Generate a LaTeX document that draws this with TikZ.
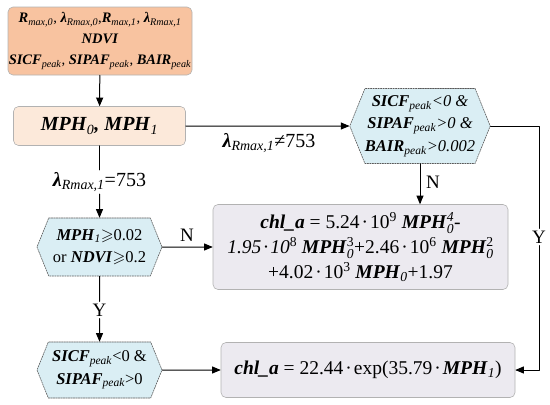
\documentclass[tikz,border=0pt]{standalone}
\usepackage{amsmath,amssymb}
\usepackage{fontspec}
\setmainfont{Liberation Serif}
\usepackage{tikz}
\usetikzlibrary{arrows}
\usetikzlibrary{shapes.symbols}
\definecolor{inorange}{HTML}{F8C3A0}
\definecolor{mphorange}{HTML}{FCE9DA}
\definecolor{hexblue}{HTML}{DAEEF4}
\definecolor{eqgray}{HTML}{ECEAF0}
\newcommand{\bi}[1]{\textbf{\textit{#1}}}
\newcommand{\lo}[1]{\textsubscript{\textit{#1}}}
\newcommand{\supsub}[2]{$^{\text{#1}}_{\textit{#2}}$}
\newcommand{\md}{\kern2pt·\kern2pt}
\begin{document}
\begin{tikzpicture}[line cap=round,line join=round,>=triangle 45,x=1pt,y=-1pt,line width=1pt,
    inbox/.style={draw=gray!60,line width=0.6pt,fill=inorange,rounded corners=5pt,align=center,inner sep=0pt,font=\fontsize{14.5}{21}\selectfont},
    mphbox/.style={draw=gray!60,line width=0.6pt,fill=mphorange,rounded corners=5pt,align=center,inner sep=0pt,font=\fontsize{20}{22}\selectfont},
    hexbox/.style={shape=signal,signal to=west and east,signal pointer angle=136,draw=gray!70!black,line width=0.6pt,dash pattern=on 1.5pt off 1pt,fill=hexblue,align=center,inner sep=0pt,font=\fontsize{16.5}{22.5}\selectfont},
    eqbox/.style={draw=gray!60,line width=0.6pt,fill=eqgray,rounded corners=5pt,align=center,inner sep=0pt,font=\fontsize{19.5}{25}\selectfont},
    lbl/.style={inner sep=2pt,font=\fontsize{20}{22}\selectfont},
    yn/.style={inner sep=2pt,font=\fontsize{19}{21}\selectfont}]
                \useasboundingbox (0,0) rectangle (550,405);
                \node[inbox,minimum width=184,minimum height=68] (inp) at (100,41) {\bi{R}\lo{max,0}, \bi{λ}\lo{Rmax,0},\bi{R}\lo{max,1}, \bi{λ}\lo{Rmax,1}\\ \bi{NDVI}\\ \bi{SICF}\lo{peak}, \bi{SIPAF}\lo{peak}, \bi{BAIR}\lo{peak}};
                \node[mphbox,minimum width=172,minimum height=39] (mph) at (99.5,126) {\bi{MPH}\lo{0}\bi{, MPH}\lo{1}};
                \node[hexbox,minimum width=140,minimum height=75] (cnd1) at (420,126) {\bi{SICF}\lo{peak}\textit{<0 \&}\\ \bi{SIPAF}\lo{peak}\textit{>0 \&}\\ \bi{BAIR}\lo{peak}\textit{>0.002}};
                \node[hexbox,minimum width=125,minimum height=58] (cnd2) at (99.5,247) {\bi{MPH}\lo{1}$\geqslant$0.02\\ or \bi{NDVI}$\geqslant$0.2};
                \node[hexbox,minimum width=125,minimum height=56] (cnd3) at (99.5,370) {\bi{SICF}\lo{peak}<0 \&\\ \bi{SIPAF}\lo{peak}>0};
                \node[eqbox,minimum width=295,minimum height=85] (eq1) at (360.5,247) {\bi{chl\_a} = 5.24\md 10\textsuperscript{9} \bi{MPH}\supsub{\textit{4}}{0}-\\ \textit{1.95\md 10}\textsuperscript{8} \bi{MPH}\supsub{3}{0}+2.46\md 10\textsuperscript{6} \bi{MPH}\supsub{2}{0}\\ +4.02\md 10\textsuperscript{3} \bi{MPH}\lo{0}+1.97};
                \node[eqbox,minimum width=294,minimum height=55] (eq2) at (368,370) {\bi{chl\_a} = 22.44\md exp(35.79\md\bi{MPH}\lo{1})};
                \node[lbl] (ne753) at (269,143) {\bi{λ}\lo{Rmax,1}≠753};
                \node[lbl] (eq753) at (99.5,182) {\bi{λ}\lo{Rmax,1}=753};
                \node[yn] (no1) at (433,182) {N};
                \node[yn] (no2) at (187,235) {N};
                \node[yn] (yes1) at (99.5,310) {Y};
                \node[yn] (yes2) at (539,237) {Y};
                \coordinate (rtop) at (539,126);
                \coordinate (rbot) at (539,370);
                \draw [->] (inp) -- (mph);
                \draw [->] (mph) -- (cnd1);
                \draw (mph) -- (eq753);
                \draw [->] (eq753) -- (cnd2);
                \draw [->] (cnd1.south) -- (cnd1.south |- eq1.north);
                \draw [->] (cnd2) -- (eq1);
                \draw (cnd2) -- (yes1);
                \draw [->] (yes1) -- (cnd3);
                \draw [->] (cnd3) -- (eq2);
                \draw (cnd1.east) -- (rtop) -- (yes2);
                \draw [->] (yes2) -- (rbot) -- (eq2);
\end{tikzpicture}
\end{document}
